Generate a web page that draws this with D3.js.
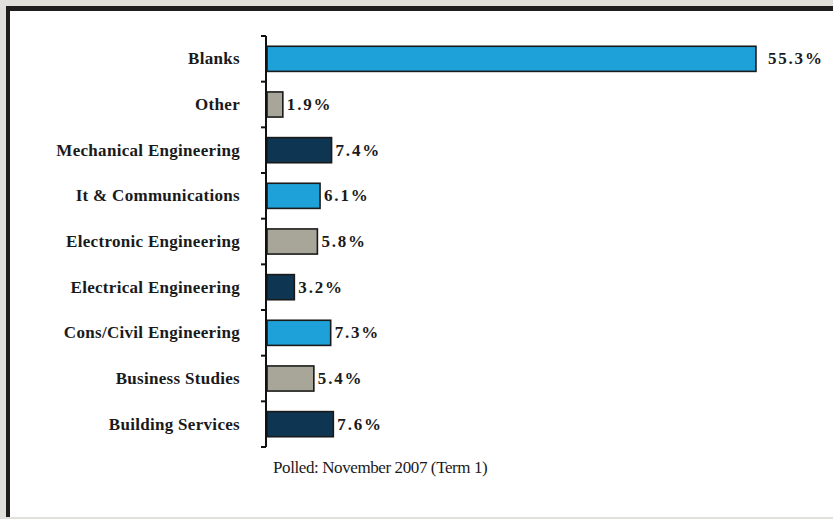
<!DOCTYPE html>
<html><head><meta charset="utf-8">
<script src="https://cdn.jsdelivr.net/npm/d3@7"></script>
<style>html,body{margin:0;padding:0;background:#e2e0db;}svg{display:block;}</style>
</head><body>
<svg id="c" width="833" height="519"></svg>
<script>
const categories = ["Blanks","Other","Mechanical Engineering","It & Communications","Electronic Engineering","Electrical Engineering","Cons/Civil Engineering","Business Studies","Building Services"];
const values = [55.3,1.9,7.4,6.1,5.8,3.2,7.3,5.4,7.6];
const palette = ["#1ea0d8","#a8a698","#0e3552"];
const footnote = "Polled: November 2007 (Term 1)";

const svg = d3.select("#c");
svg.append("rect").attr("x",0).attr("y",0).attr("width",833).attr("height",519).attr("fill","#e2e0db");
svg.append("rect").attr("x",6).attr("y",6).attr("width",840).attr("height",511).attr("fill","#1e1e1e");
svg.append("rect").attr("x",10).attr("y",11).attr("width",830).attr("height",506).attr("fill","#ffffff");

const x0 = 266;
const x = d3.scaleLinear().domain([0,60]).range([x0, x0+531.6]);
const y = d3.scaleBand().domain(categories).range([36,447]).paddingInner(0.45).paddingOuter(0.225);

const g = svg.append("g");
g.selectAll("rect.bar").data(categories).join("rect")
  .attr("class","bar")
  .attr("x", x(0)+1)
  .attr("y", d=>y(d))
  .attr("width", (d,i)=>x(values[i])-x(0)-1)
  .attr("height", y.bandwidth())
  .attr("fill", (d,i)=>palette[i%3])
  .attr("stroke","#1a1a1a").attr("stroke-width",1.6);

const bounds = d3.range(categories.length+1).map(i=>36 + i*(411/categories.length));
g.append("line").attr("x1",x0).attr("x2",x0).attr("y1",36).attr("y2",447).attr("stroke","#111").attr("stroke-width",2);
g.selectAll("line.tk").data(bounds).join("line").attr("class","tk")
  .attr("x1",x0-5).attr("x2",x0).attr("y1",d=>d).attr("y2",d=>d).attr("stroke","#111").attr("stroke-width",2);

g.selectAll("text.cat").data(categories).join("text").attr("class","cat")
  .attr("x",240).attr("y",d=>y(d)+y.bandwidth()/2)
  .attr("dy","0.33em").attr("text-anchor","end")
  .attr("font-family","'Liberation Serif','Times New Roman',serif")
  .attr("font-weight","bold").attr("font-size",17).attr("letter-spacing",0.3)
  .attr("fill","#1a1a1a").text(d=>d);

g.selectAll("text.val").data(categories).join("text").attr("class","val")
  .attr("x",(d,i)=>x(values[i])+ (i===0?12:4)).attr("y",d=>y(d)+y.bandwidth()/2)
  .attr("dy","0.33em")
  .attr("font-family","'Liberation Serif','Times New Roman',serif")
  .attr("font-weight","bold").attr("font-size",17).attr("letter-spacing",1.8)
  .attr("fill","#1a1a1a").text((d,i)=>values[i].toFixed(1)+"%");

svg.append("text").attr("x",273).attr("y",473)
  .attr("font-family","'Liberation Serif','Times New Roman',serif")
  .attr("font-size",17).attr("letter-spacing",-0.4).attr("fill","#1a1a1a").text(footnote);
</script>
</body></html>
